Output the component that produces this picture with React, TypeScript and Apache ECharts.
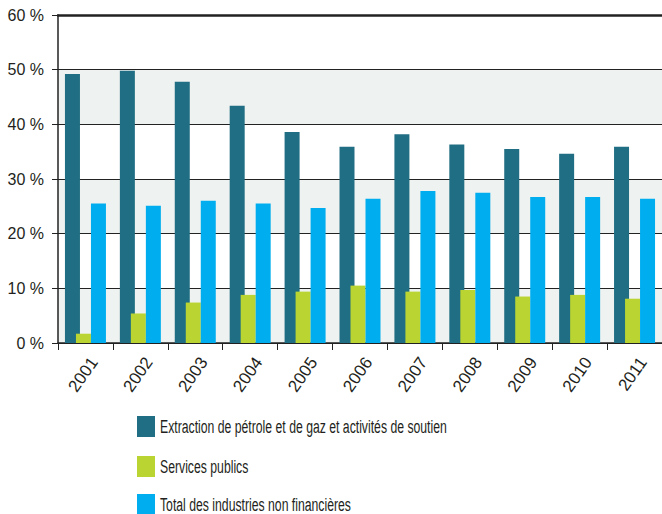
import React, { useEffect, useRef } from "react";
import * as echarts from "echarts";

const years = ["2001", "2002", "2003", "2004", "2005", "2006", "2007", "2008", "2009", "2010", "2011"];
const petrole = [49.2, 49.8, 47.8, 43.4, 38.6, 35.9, 38.2, 36.3, 35.5, 34.6, 35.9];
const services = [1.7, 5.4, 7.4, 8.8, 9.4, 10.5, 9.4, 9.7, 8.5, 8.8, 8.1];
const total = [25.5, 25.1, 26.0, 25.5, 24.7, 26.4, 27.8, 27.5, 26.7, 26.7, 26.4];
const yTicks = [0, 10, 20, 30, 40, 50, 60];

const names = [
  "Extraction de pétrole et de gaz et activités de soutien",
  "Services publics",
  "Total des industries non financières",
];
const colors = ["#206e83", "#bad532", "#00aeef"];
const FONT = "'Liberation Sans', Arial, sans-serif";

export default function App() {
  const ref = useRef<HTMLDivElement>(null);
  useEffect(() => {
    if (!ref.current) return;
    const chart = echarts.init(ref.current, null, { renderer: "svg" });
    const empty = years.map(() => null);
    const legendTops = [416, 456, 494];
    const legendGraphic = names.flatMap((n, i) => [
      {
        type: "rect",
        x: 137,
        y: legendTops[i],
        shape: { x: 0, y: 0, width: 18, height: 21 },
        style: { fill: colors[i] },
        silent: true,
      },
      {
        type: "text",
        x: 160,
        y: legendTops[i] + 10.5,
        scaleX: 0.68,
        style: {
          text: n,
          fontSize: 18,
          fontFamily: FONT,
          fill: "#231f20",
          verticalAlign: "middle",
          align: "left",
        },
        silent: true,
      },
    ]);
    chart.setOption({
      animation: false,
      textStyle: { fontFamily: FONT, color: "#231f20" },
      grid: { left: 58, top: 15, width: 606, height: 328 },
      graphic: legendGraphic,
      xAxis: [
        {
          type: "category",
          data: years,
          position: "bottom",
          axisLine: { show: true, lineStyle: { color: "#222", width: 1.5 } },
          axisTick: { show: true, length: 7, lineStyle: { color: "#222" } },
          axisLabel: {
            rotate: 55,
            fontSize: 17,
            color: "#231f20",
            margin: 10,
            verticalAlign: "top",
            padding: [2, 0, 0, 0],
            fontFamily: FONT,
          },
          splitLine: { show: false },
        },
        {
          type: "category",
          data: years,
          position: "top",
          axisLine: { show: true, onZero: false, lineStyle: { color: "#222", width: 2.5 } },
          axisTick: { show: false },
          axisLabel: { show: false },
        },
      ],
      yAxis: {
        type: "value",
        min: yTicks[0],
        max: yTicks[yTicks.length - 1],
        interval: 10,
        axisLine: { show: true, lineStyle: { color: "#222", width: 1.5 } },
        axisTick: { show: true, length: 6, lineStyle: { color: "#222" } },
        axisLabel: { formatter: "{value} %", fontSize: 16, color: "#231f20", margin: 14, fontFamily: FONT },
        splitLine: { show: true, lineStyle: { color: "#222", width: 1.2 } },
        splitArea: { show: true, areaStyle: { color: ["#eef2f0", "#ffffff"] } },
      },
      series: [
        {
          name: names[0],
          type: "bar",
          xAxisIndex: 1,
          data: petrole,
          barWidth: 15,
          barGap: 0,
          itemStyle: { color: colors[0] },
        },
        {
          name: "pad1",
          type: "bar",
          xAxisIndex: 1,
          data: empty,
          barWidth: 26,
          barGap: 0,
        },
        {
          name: "pad0",
          type: "bar",
          xAxisIndex: 0,
          data: empty,
          barWidth: 11,
          barGap: 0,
        },
        {
          name: names[1],
          type: "bar",
          xAxisIndex: 0,
          data: services,
          barWidth: 15,
          barGap: 0,
          itemStyle: { color: colors[1] },
        },
        {
          name: names[2],
          type: "bar",
          xAxisIndex: 0,
          data: total,
          barWidth: 15,
          barGap: 0,
          itemStyle: { color: colors[2] },
        },
      ],
    });
    return () => chart.dispose();
  }, []);
  return <div ref={ref} style={{ width: 662, height: 514, position: "absolute", left: 0, top: 0 }} />;
}
